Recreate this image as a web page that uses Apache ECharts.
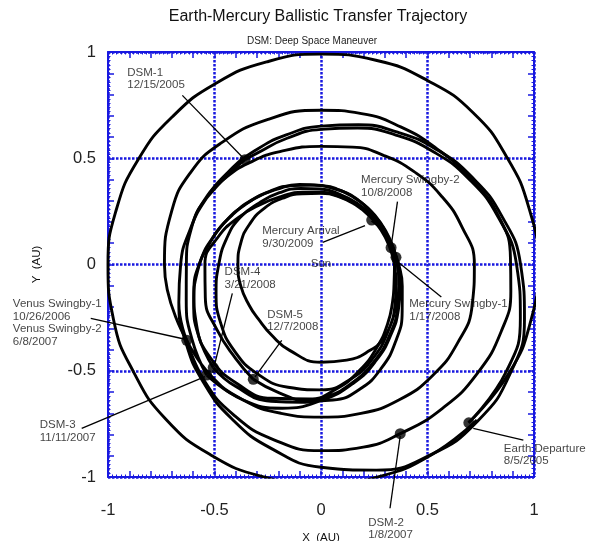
<!DOCTYPE html>
<html><head><meta charset="utf-8">
<script src="https://cdn.jsdelivr.net/npm/echarts@6/dist/echarts.min.js"></script>
<style>html,body{margin:0;padding:0;background:#fff}#c{width:596px;height:541px}</style>
</head><body><div id="c"></div>
<script>
// ---- Trajectory arcs: [radius (AU), angle (deg, CCW from +X)] ----
const outerLoop = [[1.017,-47],[1.02,-30],[1.02,-15],[1.02,0],[1.012,15],[1.008,30],[1.01,45],[1.0,60],[0.995,75],[0.99,90],[0.987,105],[0.985,120],[0.985,135],[0.99,150],[0.995,165],[1.0,180],[1.008,195],[1.015,210],[1.03,225],[1.035,240],[1.035,255],[1.035,270],[1.035,285],[1.035,300],[1.035,315]];
const earthToDsm1 = [[1.017,-47.1],[1.005,-30],[0.969,-15],[0.918,0],[0.861,15],[0.803,30],[0.749,45],[0.703,60],[0.665,75],[0.636,90],[0.615,105],[0.604,120],[0.609,125.9]];
const dsm1ToVenus1 = [[0.609,125.9],[0.6215,150],[0.636,165],[0.659,180],[0.691,195],[0.733,210],[0.782,225],[0.838,240],[0.897,255],[0.954,270],[1.002,285],[1.033,300],[1.041,315],[1.026,330],[0.989,345],[0.937,360],[0.879,375],[0.820,390],[0.766,405],[0.719,420],[0.681,435],[0.651,450],[0.631,465],[0.619,480],[0.616,495],[0.6215,510],[0.636,525],[0.659,540],[0.691,555],[0.7244,569.5]];
const venus1ToVenus2 = [[0.7244,209.5],[0.774,225],[0.818,240],[0.854,255],[0.876,270],[0.882,283],[0.8787,295.1],[0.885,310],[0.895,325],[0.903,340],[0.9,352],[0.89,362],[0.865,375],[0.81,390],[0.77,405],[0.748,420],[0.735,435],[0.726,450],[0.727,470],[0.74,490],[0.75,505],[0.745,520],[0.735,540],[0.7244,569.5]];
const venus2ToDsm3 = [[0.7244,209.5],[0.735,225],[0.735,240],[0.725,255],[0.718,270],[0.725,285],[0.735,300],[0.74,315],[0.74,330],[0.735,345],[0.72,360],[0.685,375],[0.65,390],[0.618,405],[0.592,420],[0.572,435],[0.556,450],[0.565,470],[0.585,485],[0.605,497],[0.625,510],[0.632,525],[0.632,540],[0.655,555],[0.70,570],[0.7475,584.1]];
const dsm3ToMercury1 = [[0.7475,224.1],[0.735,240],[0.70,255],[0.64,270],[0.58,285],[0.52,300],[0.465,315],[0.42,330],[0.385,345],[0.362,357],[0.3536,365.5]];
const mercury1ToDsm4 = [[0.3536,5.5],[0.345,20],[0.342,35],[0.345,50],[0.352,65],[0.362,80],[0.375,95],[0.395,110],[0.42,125],[0.45,140],[0.49,155],[0.535,170],[0.58,183],[0.625,197],[0.665,210],[0.701,223.8]];
const dsm4ToMercury2 = [[0.701,223.8],[0.70,235],[0.685,250],[0.655,262],[0.625,272],[0.575,285],[0.515,300],[0.46,315],[0.415,330],[0.38,345],[0.36,360],[0.345,375],[0.34,390],[0.342,405],[0.35,420],[0.36,435],[0.372,450],[0.39,465],[0.41,480],[0.44,495],[0.475,510],[0.52,525],[0.565,538],[0.61,552],[0.65,566],[0.68,580],[0.685,595],[0.67,610],[0.635,625],[0.59,637],[0.53,650],[0.47,664],[0.42,678],[0.38,692],[0.355,705],[0.345,720],[0.338,733.5]];
const mercury2ToDsm5 = [[0.338,13.5],[0.33,30],[0.327,45],[0.328,60],[0.332,75],[0.34,90],[0.352,105],[0.37,120],[0.40,135],[0.445,150],[0.5,165],[0.545,180],[0.565,196],[0.577,212],[0.597,228],[0.627,239.5]];
const dsm5ToArrival = [[0.627,239.5],[0.635,252],[0.645,265],[0.64,275],[0.615,287],[0.565,300],[0.5,315],[0.44,330],[0.395,345],[0.365,360],[0.345,375],[0.335,390],[0.332,405],[0.335,420],[0.342,435],[0.355,450],[0.37,465],[0.39,480],[0.41,495],[0.44,510],[0.46,525],[0.48,540],[0.51,555],[0.545,570],[0.575,585],[0.595,600],[0.598,615],[0.59,630],[0.555,645],[0.5,660],[0.445,675],[0.4,690],[0.365,705],[0.345,720],[0.332,735],[0.325,750],[0.322,765],[0.324,780],[0.33,795],[0.335,810],[0.345,825],[0.36,840],[0.375,855],[0.385,870],[0.39,885],[0.39,900],[0.39,915],[0.388,930],[0.39,941],[0.405,955],[0.43,970],[0.46,990],[0.466,1005],[0.465,1020],[0.455,1030],[0.43,1040],[0.405,1050],[0.38,1065],[0.36,1080],[0.34,1095],[0.327,1110],[0.3167,1121.3]];

// ---- Events: [X (AU), Y (AU)] ----
const eventNames = ['Earth Departure','DSM-1','Venus Swingby','DSM-2','DSM-3','Mercury Swingby-1','DSM-4','Mercury Swingby-2','DSM-5','Mercury Arrival'];
const eventPoints = [[0.694,-0.745],[-0.357,0.493],[-0.630,-0.357],[0.372,-0.796],[-0.537,-0.520],[0.352,0.034],[-0.506,-0.485],[0.329,0.079],[-0.318,-0.540],[0.238,0.209]];

// ---- Annotation texts and tick labels ----
const annotationTexts = ['DSM-1\n12/15/2005','Mercury Swingby-2\n10/8/2008','Mercury Arrival\n9/30/2009','Sun','Mercury Swingby-1\n1/17/2008','DSM-4\n3/21/2008','DSM-5\n12/7/2008','Venus Swingby-1\n10/26/2006\nVenus Swingby-2\n6/8/2007','DSM-3\n11/11/2007','DSM-2\n1/8/2007','Earth Departure\n8/5/2005'];
const xTickLabels = ['-1','-0.5','0','0.5','1'];
const yTickLabels = ['-1','-0.5','0','0.5','1'];
const titleText = 'Earth-Mercury Ballistic Transfer Trajectory';
const subtitleText = 'DSM: Deep Space Maneuver';

// ---- Layout (annotation anchors and leader lines, in axis units) ----
const layout = {
  anchors: [[-0.912,0.873],[0.186,0.367],[-0.278,0.127],[0,0.005],[0.412,-0.2165],[-0.455,-0.066],[-0.255,-0.266],[-1.449,-0.2753],[-1.3225,-0.785],[0.219,-1.243],[0.856,-0.895]],
  leaders: [
    [[-0.651,0.796],[-0.357,0.493]],
    [[0.359,0.2955],[0.330,0.090]],
    [[0.008,0.1045],[0.2066,0.1826]],
    [[0.565,-0.153],[0.3615,0.0118]],
    [[-0.4164,-0.1355],[-0.5,-0.473]],
    [[-0.1845,-0.357],[-0.31,-0.529]],
    [[-1.081,-0.253],[-0.643,-0.3506]],
    [[-1.1235,-0.771],[-0.5446,-0.528]],
    [[0.324,-1.147],[0.372,-0.807]],
    [[0.95,-0.826],[0.715,-0.771]]
  ]
};

const BLUE = '#1818e0';
const FONT = '"Liberation Sans", Arial, Helvetica, sans-serif';
const TXT = '#111';
const toXY = p => [p[0]*Math.cos(p[1]*Math.PI/180), p[0]*Math.sin(p[1]*Math.PI/180)];

const legs = [outerLoop, earthToDsm1, dsm1ToVenus1, venus1ToVenus2, venus2ToDsm3, dsm3ToMercury1, mercury1ToDsm4, dsm4ToMercury2, mercury2ToDsm5, dsm5ToArrival];
const series = [];
legs.forEach(leg => series.push({
  type:'line', data: leg.map(toXY), smooth:0.5, showSymbol:false, symbol:'none',
  lineStyle:{color:'#000', width:2.9}, silent:true, z:2, animation:false
}));
series.push({type:'scatter', data: eventPoints.map((p,i)=>({name:eventNames[i], value:p})), symbolSize:11,
  itemStyle:{color:'#000'}, silent:true, z:3, animation:false});
series.push({type:'scatter', clip:false, silent:true, z:5, animation:false, symbolSize:1,
  itemStyle:{color:'rgba(0,0,0,0)'},
  label:{show:true, position:'right', distance:0, color:TXT, fontSize:11.5, lineHeight:12.5, fontFamily:FONT, align:'left', verticalAlign:'middle'},
  data: layout.anchors.map((p,i)=>{
    const item = {value:p, label:{formatter: annotationTexts[i]}};
    if (annotationTexts[i]==='Sun') item.label = {formatter:'Sun', position:'inside', align:'center', verticalAlign:'middle', color:TXT};
    return item;
  })
});

function mainAxis(pos, showLabels, labels, extra) {
  return Object.assign({
    type:'value', position:pos, min:-1, max:1, interval:0.5,
    axisLine:{show:true, onZero:false, lineStyle:{color:BLUE, width:2}},
    axisTick:{show:true, inside:true, length:6, lineStyle:{color:BLUE, width:1.5}},
    minorTick:{show:true, splitNumber:5, length:6, lineStyle:{color:BLUE, width:1.5}},
    splitLine:{show: (pos==='bottom'||pos==='left'), lineStyle:{color:BLUE, width:2.5, type:[2.5,1.5]}},
    minorSplitLine:{show:false},
    axisLabel:{show:showLabels, color:'#222', fontSize:16.5, fontFamily:FONT,
      formatter: v => labels[Math.round((v+1)/0.5)]}
  }, extra||{});
}
function fineAxis(pos) {
  return {type:'value', position:pos, min:-1, max:1, interval:0.1,
    axisLine:{show:false, onZero:false}, axisTick:{show:false, inside:true},
    minorTick:{show:true, splitNumber:5, length:2.5, lineStyle:{color:BLUE, width:1}},
    splitLine:{show:false}, minorSplitLine:{show:false}, axisLabel:{show:false}};
}

const titleGraphics = [
  {id:'t1', type:'text', x:318, y:16.5, z:10, style:{text:titleText, font:'16px '+FONT, fill:'#111', textAlign:'center', textVerticalAlign:'middle', align:'center', verticalAlign:'middle'}},
  {id:'t2', type:'text', x:312, y:41, z:10, style:{text:subtitleText, font:'10px '+FONT, fill:'#222', textAlign:'center', textVerticalAlign:'middle', align:'center', verticalAlign:'middle'}}
];

const chart = echarts.init(document.getElementById('c'), null, {renderer:'canvas'});
chart.setOption({
  animation:false,
  backgroundColor:'#fff',
  textStyle:{fontFamily:FONT},
  grid:{left:108, right:62, top:52, bottom:64, containLabel:false, outerBoundsMode:'none'},
  xAxis:[
    mainAxis('bottom', true, xTickLabels, {axisLabel:{show:true, margin:25, color:'#222', fontSize:16.5, fontFamily:FONT, formatter: v => xTickLabels[Math.round((v+1)/0.5)]},
      name:'X  (AU)', nameLocation:'middle', nameGap:55, nameTextStyle:{color:TXT, fontSize:11.5, fontFamily:FONT}}),
    fineAxis('bottom'),
    mainAxis('top', false, xTickLabels),
    fineAxis('top')
  ],
  yAxis:[
    mainAxis('left', true, yTickLabels, {axisLabel:{show:true, margin:12, color:'#222', fontSize:16.5, fontFamily:FONT, formatter: v => yTickLabels[Math.round((v+1)/0.5)]},
      name:'Y  (AU)', nameLocation:'middle', nameGap:65, nameRotate:90, nameTextStyle:{color:TXT, fontSize:11.5, fontFamily:FONT}}),
    fineAxis('left'),
    mainAxis('right', false, yTickLabels),
    fineAxis('right')
  ],
  graphic: titleGraphics,
  series: series
});

// Leader lines: converted through the chart's own axes, drawn unclipped
const leaderGraphics = layout.leaders.map((seg, i) => ({
  id: 'leader' + i, type:'polyline', z:4, silent:true,
  shape:{points: seg.map(p => chart.convertToPixel({seriesIndex:0}, p))},
  style:{stroke:'#000', lineWidth:1.3, fill:null}
}));
chart.setOption({graphic: titleGraphics.concat(leaderGraphics)});
</script>
</body></html>
